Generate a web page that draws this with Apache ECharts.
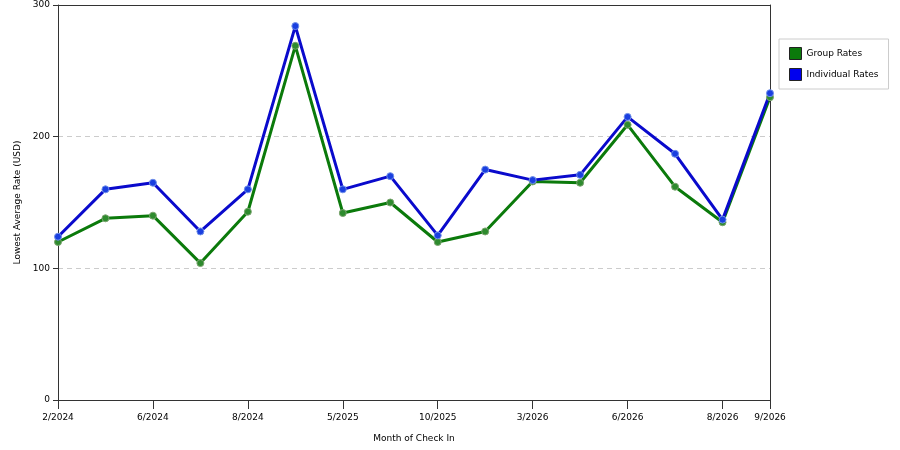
<!DOCTYPE html>
<html>
<head>
<meta charset="utf-8">
<script src="https://cdn.jsdelivr.net/npm/echarts@6/dist/echarts.min.js"></script>
<style>
html, body { margin: 0; padding: 0; background: #fff; }
#chart { width: 900px; height: 450px; }
</style>
</head>
<body>
<div id="chart"></div>
<script>
// month labels, only some are printed on the axis
const months = ['2/2024', '', '6/2024', '', '8/2024', '', '5/2025', '', '10/2025', '', '3/2026', '', '6/2026', '', '8/2026', '9/2026'];
const groupRates = [120, 138, 140, 104, 143, 269, 142, 150, 120, 128, 166, 165, 209, 162, 135, 230];
const individualRates = [124, 160, 165, 128, 160, 284, 160, 170, 125, 175, 167, 171, 215, 187, 137, 233];
const yTicks = [0, 100, 200, 300];

const showTick = (i) => i % 2 === 0 || i === months.length - 1;
const font = 'DejaVu Sans';
const axisColor = '#333';

const chart = echarts.init(document.getElementById('chart'));
chart.setOption({
    animation: false,
    textStyle: { fontFamily: font },
    grid: { left: 58, right: 130, top: 5, bottom: 50 },
    legend: {
        orient: 'vertical',
        left: 779, top: 39,
        padding: [8, 10, 8, 10],
        itemGap: 8,
        itemWidth: 12, itemHeight: 12,
        borderColor: '#ccc', borderWidth: 1,
        icon: 'rect',
        textStyle: { fontSize: 9, color: '#000', fontFamily: font },
        data: [
            { name: 'Group Rates', itemStyle: { color: '#0b7a0b', borderColor: '#222', borderWidth: 1 } },
            { name: 'Individual Rates', itemStyle: { color: '#0000ee', borderColor: '#222', borderWidth: 1 } }
        ]
    },
    xAxis: [
        {
            type: 'category',
            data: months,
            boundaryGap: false,
            name: 'Month of Check In',
            nameLocation: 'middle',
            nameGap: 34,
            nameTextStyle: { fontSize: 9, color: '#000' },
            axisLine: { lineStyle: { color: axisColor, width: 1 } },
            axisTick: { show: true, inside: false, length: 9, interval: (i) => showTick(i), lineStyle: { color: axisColor } },
            axisLabel: { interval: (i) => showTick(i), fontSize: 9, color: '#000', margin: 13 },
            splitLine: { show: false }
        },
        {
            // top frame line
            type: 'category',
            data: months,
            boundaryGap: false,
            position: 'top',
            axisLine: { show: true, onZero: false, lineStyle: { color: axisColor, width: 1 } },
            axisTick: { show: false },
            axisLabel: { show: false },
            splitLine: { show: false }
        }
    ],
    yAxis: [
        {
            type: 'value',
            min: yTicks[0],
            max: yTicks[yTicks.length - 1],
            interval: 100,
            name: 'Lowest Average Rate (USD)',
            nameLocation: 'middle',
            nameGap: 36,
            nameTextStyle: { fontSize: 9, color: '#000' },
            axisLine: { show: true, lineStyle: { color: axisColor } },
            axisTick: { show: true, length: 5, lineStyle: { color: axisColor } },
            axisLabel: { fontSize: 9, color: '#000', margin: 8 },
            splitLine: { show: true, lineStyle: { color: '#ccc', type: [5, 4] } }
        },
        {
            // right frame line
            type: 'value',
            min: yTicks[0],
            max: yTicks[yTicks.length - 1],
            interval: 100,
            position: 'right',
            axisLine: { show: true, onZero: false, lineStyle: { color: axisColor } },
            axisTick: { show: false },
            axisLabel: { show: false },
            splitLine: { show: false }
        }
    ],
    series: [
        {
            name: 'Group Rates',
            type: 'line',
            data: groupRates,
            symbol: 'circle',
            symbolSize: 7,
            lineStyle: { color: '#0b7a0b', width: 3 },
            itemStyle: { color: '#2e8b2e', borderColor: '#7aa36e', borderWidth: 1 }
        },
        {
            name: 'Individual Rates',
            type: 'line',
            data: individualRates,
            symbol: 'circle',
            symbolSize: 7,
            lineStyle: { color: '#0a0acc', width: 3 },
            itemStyle: { color: '#1a3fe0', borderColor: '#6f8fe8', borderWidth: 1 }
        }
    ]
});
</script>
</body>
</html>
